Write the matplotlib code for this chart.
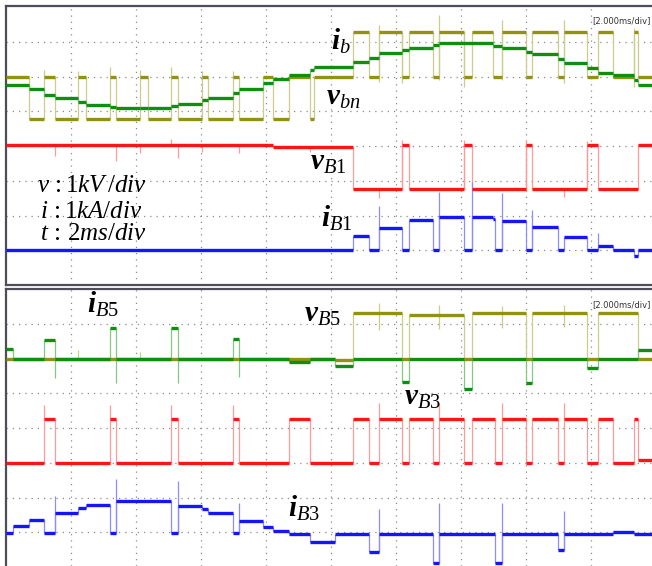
import numpy as np
import matplotlib
matplotlib.use("Agg")
from matplotlib import pyplot as plt

plt.rcParams["mathtext.fontset"] = "custom"
plt.rcParams["mathtext.rm"] = "Liberation Serif"
plt.rcParams["mathtext.it"] = "Liberation Serif:italic"
plt.rcParams["mathtext.bf"] = "Liberation Serif:italic:bold"

# time in ms (2 ms/div), levels in screen divisions (0..8)
T_END = 19.88

# ---- upper screen ----
vbn_t = [0, 0.71, 1.17, 1.5, 2.22, 2.45, 3.2, 3.38, 4.12, 4.37, 5.08, 5.29, 6.03, 6.22,
         6.98, 7.17, 7.91, 8.22, 8.7, 9.35, 9.48, 10.68, 11.17, 11.48, 12.18, 12.4, 13.15,
         13.32, 14.09, 14.34, 14.98, 15.26, 16.0, 16.18, 16.98, 17.17, 17.88, 18.22, 18.68,
         19.32, 19.45]
vbn_v = [6.0, 4.78, 6.0, 4.78, 6.0, 4.78, 6.0, 4.78, 6.0, 4.78, 6.0, 4.78, 6.0, 4.78,
         6.0, 4.78, 6.0, 4.78, 6.0, 4.78, 6.0, 7.28, 6.0, 7.28, 6.0, 7.28, 6.0,
         7.28, 6.0, 7.28, 6.0, 7.28, 6.0, 7.28, 6.0, 7.28, 6.0, 7.28, 6.0,
         7.28, 6.0]
vbn_spk_t = [1.17, 2.22, 3.2, 4.12, 5.08, 6.03, 6.98, 11.48, 12.18, 13.32, 14.09, 15.26, 17.17, 19.32]
vbn_spk_lo = [6.0, 6.0, 6.0, 6.0, 6.0, 6.0, 6.0, 5.84, 5.81, 5.9, 5.7, 5.9, 5.81, 5.7]
vbn_spk_hi = [6.19, 6.15, 6.27, 6.19, 6.27, 6.15, 6.15, 7.48, 7.28, 7.77, 7.28, 7.63, 7.63, 7.4]

ib_t = [0, 0.71, 1.17, 1.5, 2.22, 2.45, 3.2, 3.38, 4.12, 4.37, 5.08, 5.29, 6.03, 6.22,
        6.98, 7.17, 7.91, 8.22, 8.7, 9.35, 9.48, 10.68, 11.17, 11.48, 12.18, 12.4, 13.15,
        13.32, 14.98, 15.26, 16.0, 16.18, 16.98, 17.17, 17.88, 18.22, 18.68, 19.32, 19.45]
ib_v = [5.76, 5.64, 5.47, 5.38, 5.27, 5.18, 5.12, 5.09, 5.08, 5.09, 5.15, 5.21, 5.32, 5.38,
        5.53, 5.64, 5.81, 5.93, 6.04, 6.19, 6.27, 6.42, 6.53, 6.68, 6.76, 6.82, 6.91,
        6.96, 6.88, 6.82, 6.71, 6.65, 6.50, 6.39, 6.24, 6.10, 6.04, 5.90, 5.76]

vb1_t = [0, 8.22, 10.68, 12.18, 12.4, 14.09, 14.34, 16.0, 16.18, 17.88, 18.22, 19.45]
vb1_v = [4.03, 3.97, 2.76, 4.03, 2.76, 4.03, 2.76, 4.03, 2.76, 4.03, 2.76, 4.03]
vb1_spk_t = [1.5, 3.38, 4.12, 5.08, 5.29, 6.03, 7.17, 9.35, 11.48, 12.18, 14.09, 16.0, 17.17, 17.88]
vb1_spk_lo = [3.71, 3.57, 3.80, 4.03, 3.65, 3.83, 3.80, 3.83, 2.50, 2.76, 2.76, 2.76, 2.53, 2.76]
vb1_spk_hi = [4.03, 4.03, 4.03, 4.20, 4.03, 4.03, 4.03, 3.97, 2.76, 4.17, 4.17, 4.17, 2.76, 4.14]

ib1_t = [0, 10.68, 11.17, 11.48, 12.18, 12.4, 13.15, 13.32, 14.09, 14.34, 14.98, 15.05,
         15.26, 16.0, 16.18, 16.98, 17.17, 17.88, 18.22, 18.68, 19.32, 19.45]
ib1_v = [1.0, 1.41, 1.0, 1.64, 1.0, 1.87, 1.0, 1.96, 1.0, 1.96, 1.90, 1.0,
         1.84, 1.0, 1.67, 1.0, 1.38, 1.0, 1.12, 1.0, 0.83, 1.0]
ib1_spk_t = [11.48, 13.32, 14.34, 15.26, 16.18, 18.22]
ib1_spk_lo = [1.0, 1.0, 1.0, 1.0, 1.0, 1.0]
ib1_spk_hi = [2.27, 2.68, 2.96, 2.65, 2.16, 1.5]

# ---- lower screen ----
vb5_t = [0, 10.12, 10.68, 12.18, 12.4, 14.09, 14.34, 16.0, 16.18, 17.88, 18.22, 19.45]
vb5_v = [6.0, 5.95, 7.31, 6.0, 7.25, 6.0, 7.31, 6.0, 7.31, 6.0, 7.31, 6.0]
vb5_spk_t = [2.22, 4.12, 11.48, 13.32, 15.26, 17.17]
vb5_spk_lo = [5.95, 5.95, 6.82, 6.85, 6.88, 6.9]
vb5_spk_hi = [6.25, 6.2, 7.6, 7.55, 7.5, 7.55]

ib5_t = [0, 0.22, 1.17, 1.5, 3.2, 3.38, 5.08, 5.29, 6.98, 7.17, 8.7, 9.35, 10.12, 10.68,
         12.18, 12.4, 14.09, 14.34, 16.0, 16.18, 17.88, 18.22, 19.45]
ib5_v = [6.27, 6.0, 6.53, 6.0, 6.88, 6.0, 6.88, 6.0, 6.56, 6.0, 5.91, 6.0, 5.78, 6.0,
         5.32, 6.0, 5.12, 6.0, 5.29, 6.0, 5.73, 6.0, 6.24]
ib5_spk_t = [1.5, 3.38, 5.29, 7.17]
ib5_spk_lo = [5.44, 5.29, 5.29, 5.47]
ib5_spk_hi = [6.0, 6.0, 6.0, 6.0]

vb3_t = [0, 1.17, 1.5, 3.2, 3.38, 5.08, 5.29, 6.98, 7.17, 8.7, 9.35, 10.68, 11.17, 11.48,
         12.18, 12.4, 13.15, 13.32, 14.09, 14.34, 15.05, 15.26, 16.0, 16.18, 16.98, 17.17,
         17.88, 18.22, 18.68, 19.32, 19.45]
vb3_v = [3.0, 4.26, 3.0, 4.26, 3.0, 4.26, 3.0, 4.26, 3.0, 4.26, 3.0, 4.26, 3.0, 4.26,
         3.0, 4.26, 3.0, 4.26, 3.0, 4.26, 3.0, 4.26, 3.0, 4.26, 3.0, 4.26,
         3.0, 4.26, 3.0, 4.26, 3.07]
vb3_spk_t = [1.17, 3.2, 5.08, 6.98, 11.48, 13.32, 15.26, 17.17]
vb3_spk_lo = [4.26] * 8
vb3_spk_hi = [4.66, 4.66, 4.66, 4.66, 4.72, 4.72, 4.72, 4.72]

ib3_t = [0, 0.22, 0.71, 1.17, 1.5, 2.22, 2.45, 3.2, 3.38, 5.08, 5.29, 6.03, 6.22, 6.98,
         7.17, 7.91, 8.22, 8.7, 9.35, 10.12, 11.17, 11.48, 13.15, 13.32, 15.05, 15.26,
         16.98, 17.17, 18.68, 19.32]
ib3_v = [0.98, 1.18, 1.35, 0.98, 1.55, 1.70, 1.78, 0.98, 1.90, 0.98, 1.76, 1.67, 1.55, 0.98,
         1.33, 1.15, 1.04, 0.95, 0.72, 0.95, 0.43, 0.95, 0.12, 0.95, 0.12, 0.95,
         0.49, 0.95, 1.01, 0.95]
ib3_spk_t = [1.5, 3.38, 5.29, 7.17, 11.48, 13.32, 15.26, 17.17]
ib3_spk_lo = [0.98, 0.98, 0.98, 0.98, 0.43, 0.12, 0.12, 0.49]
ib3_spk_hi = [2.04, 2.53, 2.47, 1.84, 1.67, 1.84, 1.84, 1.61]

OLIVE, OLIVE_E = "#929212", "#cccc8c"
GREEN, GREEN_E = "#0f8f0f", "#84c884"
RED, RED_E = "#ff1414", "#ff9a9a"
BLUE, BLUE_E = "#1414ff", "#8c8cff"
FRAME = "#4e4e5a"


def trace(ax, t, v, color, ecolor, spk=None):
    ends = t[1:] + [T_END]
    ax.vlines(t[1:], v[:-1], v[1:], colors=ecolor, lw=0.9, zorder=2)
    if spk is not None:
        ax.vlines(spk[0], spk[1], spk[2], colors=ecolor, lw=0.9, zorder=2)
    ax.hlines(v, t, ends, colors=color, lw=2.4, zorder=3)


def screen(ax):
    ax.set_xlim(0, T_END)
    ax.set_xticks(np.arange(2, 20, 2))
    ax.set_yticks(np.arange(1, 8))
    ax.tick_params(length=0, labelbottom=False, labelleft=False)
    ax.grid(True, color="#8a8a8a", ls=(0, (1, 4)), lw=0.9)
    ax.set_axisbelow(True)
    ax.spines["right"].set_visible(False)
    for s in ("left", "top", "bottom"):
        ax.spines[s].set_color(FRAME)
        ax.spines[s].set_linewidth(1.6)


fig = plt.figure(figsize=(6.52, 5.66), dpi=100)
ax1 = fig.add_axes([6 / 652, 281 / 566, 646 / 652, 279 / 566])
ax2 = fig.add_axes([6 / 652, 0, 646 / 652, 277 / 566])
screen(ax1)
ax1.set_ylim(0, 8.03)
screen(ax2)
ax2.set_ylim(8 - 277 / 34.75, 8)
ax2.spines["bottom"].set_visible(False)

trace(ax1, vbn_t, vbn_v, OLIVE, OLIVE_E, (vbn_spk_t, vbn_spk_lo, vbn_spk_hi))
trace(ax1, ib_t, ib_v, GREEN, GREEN_E)
trace(ax1, vb1_t, vb1_v, RED, RED_E, (vb1_spk_t, vb1_spk_lo, vb1_spk_hi))
trace(ax1, ib1_t, ib1_v, BLUE, BLUE_E, (ib1_spk_t, ib1_spk_lo, ib1_spk_hi))

trace(ax2, vb5_t, vb5_v, OLIVE, OLIVE_E, (vb5_spk_t, vb5_spk_lo, vb5_spk_hi))
trace(ax2, ib5_t, ib5_v, GREEN, GREEN_E, (ib5_spk_t, ib5_spk_lo, ib5_spk_hi))
trace(ax2, vb3_t, vb3_v, RED, RED_E, (vb3_spk_t, vb3_spk_lo, vb3_spk_hi))
trace(ax2, ib3_t, ib3_v, BLUE, BLUE_E, (ib3_spk_t, ib3_spk_lo, ib3_spk_hi))

lab = dict(fontsize=21, color="black", va="baseline", ha="left", zorder=5)
ax1.text(10.0, 6.76, r"$\mathbf{i}_{b}$", **lab)
ax1.text(9.85, 5.18, r"$\mathbf{v}_{bn}$", **lab)
ax1.text(9.35, 3.31, r"$\mathbf{v}_{B1}$", **lab)
ax1.text(9.7, 1.67, r"$\mathbf{i}_{B1}$", **lab)
ax2.text(2.5, 7.31, r"$\mathbf{i}_{B5}$", **lab)
ax2.text(9.17, 7.05, r"$\mathbf{v}_{B5}$", **lab)
ax2.text(12.25, 4.66, r"$\mathbf{v}_{B3}$", **lab)
ax2.text(8.69, 1.44, r"$\mathbf{i}_{B3}$", **lab)

sc = dict(fontsize=18, color="black", va="baseline", ha="left", zorder=5)
ax1.text(0.95, 2.68, r"$v\,:1kV\,/div$", **sc)
ax1.text(1.05, 1.93, r"$i\,:1kA/div$", **sc)
ax1.text(1.05, 1.29, r"$t\,:\,2ms/div$", **sc)

small = dict(fontsize=6, color="#333333", va="baseline", ha="right",
             family=["Liberation Sans Narrow", "DejaVu Sans"], zorder=5)
ax1.text(T_END - 0.04, 7.54, "[2.000ms/div]", **small)
ax2.text(T_END - 0.04, 7.48, "[2.000ms/div]", **small)

fig.savefig("out.png", dpi=100, facecolor="white")
